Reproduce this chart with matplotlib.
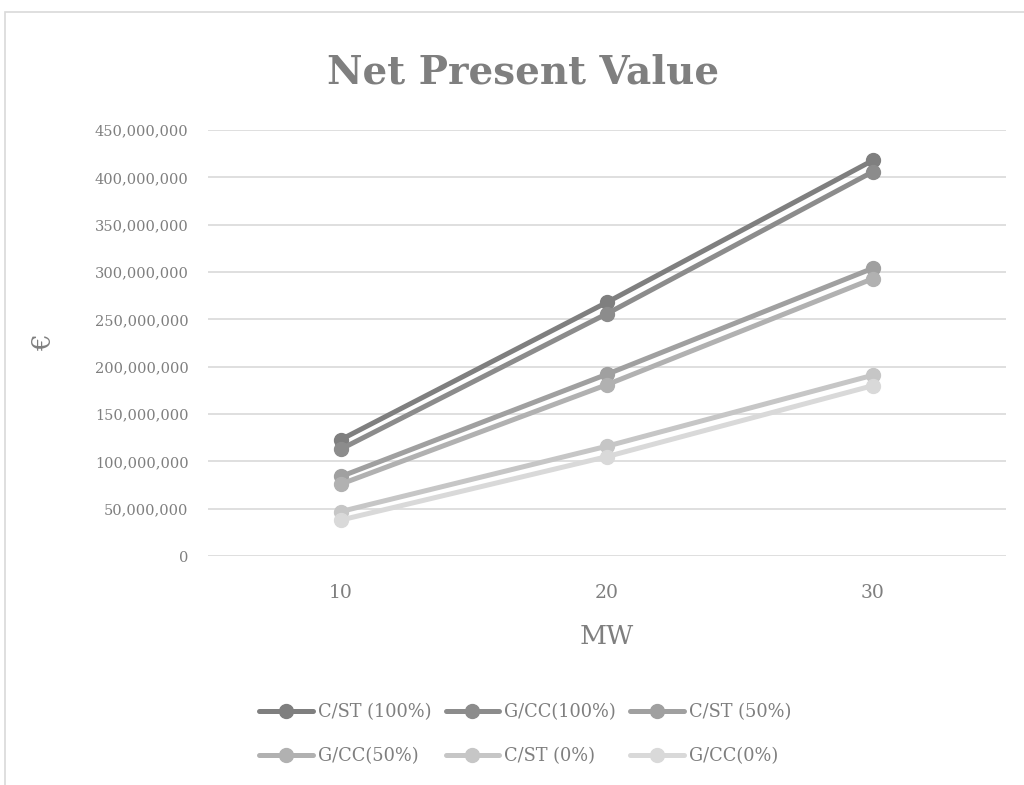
import numpy as np
import matplotlib.pyplot as plt
from matplotlib.patches import Rectangle
from matplotlib.ticker import FuncFormatter

# ── Data ─────────────────────────────────────────────────────────────────────
capacity = ['10', '20', '30']                     # MW
series_names = ['C/ST (100%)', 'G/CC(100%)', 'C/ST (50%)',
                'G/CC(50%)', 'C/ST (0%)', 'G/CC(0%)']
cst_100 = [123e6, 268e6, 418e6]
gcc_100 = [113e6, 256e6, 406e6]
cst_50 = [84e6, 192e6, 304e6]
gcc_50 = [76e6, 181e6, 293e6]
cst_0 = [47e6, 116e6, 191e6]
gcc_0 = [38e6, 105e6, 180e6]

series_values = [cst_100, gcc_100, cst_50, gcc_50, cst_0, gcc_0]
colours = ['#7f7f7f', '#8c8c8c', '#a0a0a0', '#b1b1b1', '#c6c6c6', '#d9d9d9']

text_col = '#7f7f7f'
plt.rcParams['font.family'] = ['DejaVu Serif']

fig = plt.figure(figsize=(10.24, 7.85), dpi=100)

# Chart-area border (cropped on the right and bottom in the reference)
fig.patches.append(Rectangle((5 / 1024, -0.1), 1.2, 1.1 - 12 / 785,
                             transform=fig.transFigure, fill=False,
                             edgecolor='#d9d9d9', linewidth=1.2))

ax = fig.add_axes([208 / 1024, 1 - 556 / 785, 798 / 1024, 426 / 785])

x = np.arange(1, len(capacity) + 1)
handles = []
for name, vals, col in zip(series_names, series_values, colours):
    h, = ax.plot(x, vals, color=col, linewidth=3.6, marker='o', markersize=10,
                 label=name, solid_capstyle='round')
    handles.append(h)

ax.set_xlim(0.5, 3.5)
ax.set_ylim(0, 450e6)
ax.set_yticks(np.arange(0, 450e6 + 1, 50e6))
ax.yaxis.set_major_formatter(FuncFormatter(lambda v, p: f'{v:,.0f}'))
ax.set_xticks(x)
ax.set_xticklabels(capacity)

ax.grid(axis='y', color='#d9d9d9', linewidth=1.2)
ax.set_axisbelow(True)
for s in ['top', 'right', 'left', 'bottom']:
    ax.spines[s].set_visible(False)
ax.tick_params(axis='both', length=0, colors=text_col)
ax.tick_params(axis='y', pad=14, labelsize=10.5)
ax.tick_params(axis='x', pad=20, labelsize=13.5)

ax.set_xlabel('MW', fontsize=19, color=text_col, labelpad=16)
ax.set_ylabel('€', fontsize=19, color=text_col, labelpad=28)

fig.text(0.511, 1 - 72 / 785, 'Net Present Value', ha='center', va='center',
         fontsize=28, fontweight='bold', color=text_col)

# Row-wise legend order (matplotlib fills columns first)
ncol = 3
order = [i * ncol + j for j in range(ncol) for i in range(2)]
leg = fig.legend([handles[k] for k in order], [series_names[k] for k in order],
                 loc='center', bbox_to_anchor=(0.513, 1 - 734 / 785), ncol=ncol,
                 frameon=False, fontsize=12.8, handlelength=3.0,
                 labelspacing=1.45, columnspacing=0.8, handletextpad=0.3)
for t in leg.get_texts():
    t.set_color(text_col)

fig.savefig('out.png', dpi=100)
